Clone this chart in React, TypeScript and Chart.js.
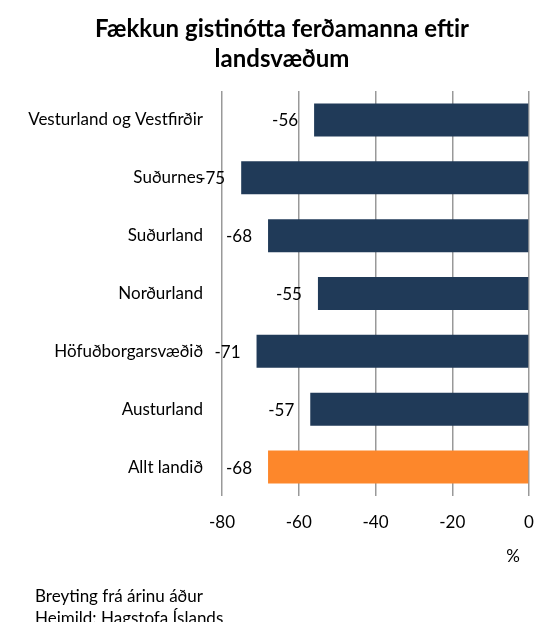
import React, { useEffect, useRef } from "react";
import { Chart, registerables } from "chart.js";

Chart.register(...registerables);

const categories = [
  "Vesturland og Vestfirðir",
  "Suðurnes",
  "Suðurland",
  "Norðurland",
  "Höfuðborgarsvæðið",
  "Austurland",
  "Allt landið",
];
const values = [-56, -75, -68, -55, -71, -57, -68];
const barColors = ["#203A58", "#203A58", "#203A58", "#203A58", "#203A58", "#203A58", "#FD872B"];
const titleLines = ["Fækkun gistinótta ferðamanna eftir", "landsvæðum"];
const unitLabel = "%";
const footnotes = ["Breyting frá árinu áður", "Heimild: Hagstofa Íslands"];

const FONT = "Lato, 'Open Sans', sans-serif";
const FS = 17;

const textPlugin = {
  id: "textPlugin",
  afterDraw(chart: any) {
    const ctx = chart.ctx;
    const x = chart.scales.x;
    ctx.save();
    // title
    ctx.fillStyle = "#000";
    ctx.font = `bold 24px ${FONT}`;
    ctx.textAlign = "center";
    ctx.textBaseline = "middle";
    ctx.fillText(titleLines[0], 282, 29);
    ctx.fillText(titleLines[1], 282, 59);
    // data labels
    ctx.font = `${FS}px ${FONT}`;
    ctx.textAlign = "right";
    const meta = chart.getDatasetMeta(0);
    meta.data.forEach((bar: any, i: number) => {
      ctx.fillText(String(values[i]), bar.x - 16, bar.y + 1);
    });
    // unit
    ctx.textAlign = "center";
    ctx.fillText(unitLabel, x.right - 16, 557);
    // footnotes
    ctx.textAlign = "left";
    ctx.fillText(footnotes[0], 35, 597);
    ctx.fillText(footnotes[1], 35, 619);
    ctx.restore();
  },
};

export default function App() {
  const ref = useRef<HTMLCanvasElement>(null);
  useEffect(() => {
    if (!ref.current) return;
    const chart = new Chart(ref.current, {
      type: "bar",
      data: {
        labels: categories,
        datasets: [
          {
            data: values,
            backgroundColor: barColors,
            borderWidth: 0,
            categoryPercentage: 1,
            barPercentage: 0.57,
          },
        ],
      },
      options: {
        indexAxis: "y",
        animation: false,
        responsive: false,
        layout: { padding: { top: 91, right: 5, bottom: 92, left: 0 } },
        plugins: {
          legend: { display: false },
          title: { display: false },
          tooltip: { enabled: false },
        },
        scales: {
          x: {
            min: -80,
            max: 0,
            afterFit(scale: any) {
              scale.height = 34;
              scale.paddingLeft = 0;
              scale.paddingRight = 0;
            },
            ticks: {
              stepSize: 20,
              color: "#000",
              font: { family: FONT, size: FS },
              padding: 16,
              maxRotation: 0,
            },
            grid: { color: "#999", lineWidth: 1.5, drawTicks: false },
            border: { display: false },
          },
          y: {
            afterFit(scale: any) {
              scale.width = 222;
              scale.paddingTop = 0;
              scale.paddingBottom = 0;
            },
            ticks: {
              color: "#000",
              font: { family: FONT, size: FS },
              padding: 19,
            },
            grid: { display: false, drawTicks: false },
            border: { display: false },
          },
        },
      },
      plugins: [textPlugin],
    });
    return () => chart.destroy();
  }, []);
  return (
    <div style={{ position: "absolute", left: 0, top: 0, width: 534, height: 622, background: "#fff" }}>
      <canvas ref={ref} width={534} height={622} />
    </div>
  );
}
